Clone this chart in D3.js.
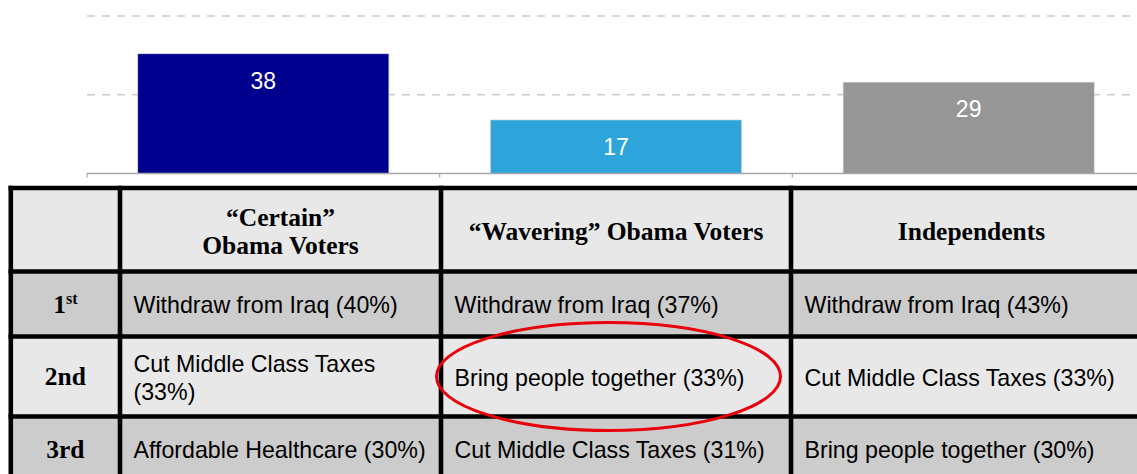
<!DOCTYPE html>
<html>
<head>
<meta charset="utf-8">
<script src="https://cdn.jsdelivr.net/npm/d3@7"></script>
<style>
  html, body { margin: 0; padding: 0; background: #fff; }
  svg { display: block; }
</style>
</head>
<body>
<svg id="chart" width="1137" height="474"></svg>
<script>
// Share of each voter group (bar chart)
const groups = ["Certain", "Wavering", "Independents"];
const shares = [38, 17, 29];
const barColors = ["#00008f", "#2da5db", "#969696"];
const gridTicks = [25, 50];

// Priority table below the bars
const headers = [["\u201CCertain\u201D", "Obama Voters"], ["\u201CWavering\u201D Obama Voters"], ["Independents"]];
const rankNums = ["1", "2", "3"];
const rankSuffix = ["st", "nd", "rd"];
const rankSup = [true, false, false];
const rowCertain = [["Withdraw from Iraq (40%)"], ["Cut Middle Class Taxes", "(33%)"], ["Affordable Healthcare (30%)"]];
const rowWavering = [["Withdraw from Iraq (37%)"], ["Bring people together (33%)"], ["Cut Middle Class Taxes (31%)"]];
const rowIndependents = [["Withdraw from Iraq (43%)"], ["Cut Middle Class Taxes (33%)"], ["Bring people together (30%)"]];
const highlighted = { col: 1, row: 1 };

const svg = d3.select("#chart");
const SANS = "'Liberation Sans', Arial, sans-serif";
const SERIF = "'Liberation Serif', 'Times New Roman', serif";

// ---------- bar chart ----------
const x = d3.scaleBand().domain(groups).range([87, 1145]).padding(0);
const y = d3.scaleLinear().domain([0, 50]).range([173.5, 16]);
const barFrac = 0.712;

svg.append("g").selectAll("line").data(gridTicks).join("line")
  .attr("x1", 87).attr("x2", 1137)
  .attr("y1", d => y(d)).attr("y2", d => y(d))
  .attr("stroke", "#cccccc").attr("stroke-width", 1.3)
  .attr("stroke-dasharray", "8,7");

const bw = x.bandwidth() * barFrac;
const bars = svg.append("g").selectAll("g").data(groups).join("g");
bars.append("rect")
  .attr("x", d => x(d) + (x.bandwidth() - bw) / 2)
  .attr("y", (d, i) => y(shares[i]))
  .attr("width", bw)
  .attr("height", (d, i) => y(0) - y(shares[i]))
  .attr("fill", (d, i) => barColors[i])
  .attr("stroke", "#d8d8d8").attr("stroke-width", 0.6);
bars.append("text")
  .attr("x", d => x(d) + x.bandwidth() / 2)
  .attr("y", (d, i) => y(shares[i]) + 27)
  .attr("text-anchor", "middle").attr("dominant-baseline", "central")
  .attr("font-family", SANS).attr("font-size", 23).attr("fill", "#fff")
  .text((d, i) => shares[i]);

// category axis with boundary ticks
const axisG = svg.append("g").attr("transform", `translate(0,${y(0)})`);
axisG.append("line").attr("x1", 87).attr("x2", 1145).attr("y1", 0).attr("y2", 0)
  .attr("stroke", "#a8a8a8").attr("stroke-width", 1.5);
const bounds = groups.map(g => x(g)).concat([x.range()[1]]);
axisG.selectAll("line.tick").data(bounds).join("line").attr("class", "tick")
  .attr("x1", d => d).attr("x2", d => d).attr("y1", 0).attr("y2", 4)
  .attr("stroke", "#a8a8a8").attr("stroke-width", 1.2);

// ---------- table ----------
const colEdges = [10.8, 120, 441, 791, 1152];
const rowEdges = [188, 271.5, 336.5, 416.5, 482];
const rowFill = ["#e8e8e8", "#cccccc", "#e8e8e8", "#cccccc"];
const cols = [rowCertain, rowWavering, rowIndependents];

const tbl = svg.append("g");
// row backgrounds
tbl.selectAll("rect.bg").data(rowFill).join("rect").attr("class", "bg")
  .attr("x", colEdges[0]).attr("y", (d, i) => rowEdges[i])
  .attr("width", colEdges[4] - colEdges[0])
  .attr("height", (d, i) => rowEdges[i + 1] - rowEdges[i])
  .attr("fill", d => d);

// header texts
headers.forEach((lines, c) => {
  const cx = (colEdges[c + 1] + colEdges[c + 2]) / 2;
  const cy = (rowEdges[0] + rowEdges[1]) / 2 + 2;
  const lh = 28;
  const t = tbl.append("text")
    .attr("text-anchor", "middle").attr("font-family", SERIF)
    .attr("font-weight", "bold").attr("font-size", 25.5).attr("fill", "#000");
  lines.forEach((ln, k) => {
    t.append("tspan").attr("x", cx)
      .attr("y", cy + (k - (lines.length - 1) / 2) * lh)
      .attr("dominant-baseline", "central").text(ln);
  });
});

// rank labels
rankNums.forEach((n, r) => {
  const cx = (colEdges[0] + colEdges[1]) / 2;
  const cy = (rowEdges[r + 1] + rowEdges[r + 2]) / 2;
  const t = tbl.append("text").attr("x", cx).attr("y", cy + 8.5)
    .attr("text-anchor", "middle").attr("font-family", SERIF)
    .attr("font-weight", "bold").attr("font-size", 25.5).attr("fill", "#000");
  t.append("tspan").text(n);
  if (rankSup[r]) {
    t.append("tspan").attr("font-size", 16).attr("dy", -9).text(rankSuffix[r]);
  } else {
    t.append("tspan").text(rankSuffix[r]);
  }
});

// priority cells
cols.forEach((rows, c) => {
  rows.forEach((lines, r) => {
    const tx = colEdges[c + 1] + 13.5;
    const cy = (rowEdges[r + 1] + rowEdges[r + 2]) / 2;
    const lh = 28;
    const t = tbl.append("text").attr("font-family", SANS)
      .attr("font-size", 23.2).attr("fill", "#000");
    lines.forEach((ln, k) => {
      t.append("tspan").attr("x", tx)
        .attr("y", cy + (k - (lines.length - 1) / 2) * lh + 1)
        .attr("dominant-baseline", "central").text(ln);
    });
  });
});

// grid lines of the table
const bw2 = 4.6;
tbl.selectAll("line.h").data(rowEdges).join("line").attr("class", "h")
  .attr("x1", colEdges[0] - bw2 / 2).attr("x2", colEdges[4])
  .attr("y1", d => d).attr("y2", d => d)
  .attr("stroke", "#000").attr("stroke-width", bw2);
tbl.selectAll("line.v").data(colEdges).join("line").attr("class", "v")
  .attr("x1", d => d).attr("x2", d => d)
  .attr("y1", rowEdges[0] - bw2 / 2).attr("y2", rowEdges[4])
  .attr("stroke", "#000").attr("stroke-width", bw2);

// highlight ring around the standout answer
const hx = (colEdges[highlighted.col + 1] + colEdges[highlighted.col + 2]) / 2;
const hy = (rowEdges[highlighted.row + 1] + rowEdges[highlighted.row + 2]) / 2;
svg.append("ellipse")
  .attr("cx", hx - 7.5).attr("cy", hy)
  .attr("rx", 172).attr("ry", 54)
  .attr("fill", "none").attr("stroke", "#e8000b").attr("stroke-width", 3);
</script>
</body>
</html>
